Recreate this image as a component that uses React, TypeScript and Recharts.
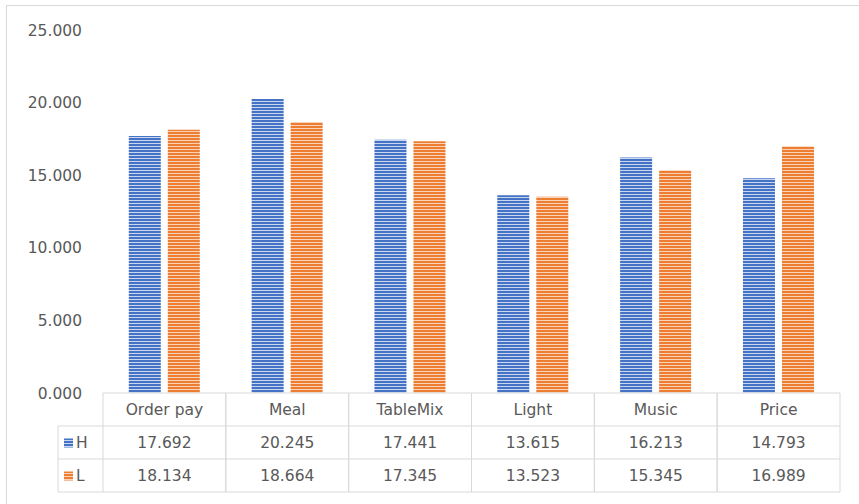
import { BarChart, Bar, XAxis, YAxis } from 'recharts';

const categories = ['Order pay', 'Meal', 'TableMix', 'Light', 'Music', 'Price'];
const hValues = [17.692, 20.245, 17.441, 13.615, 16.213, 14.793];
const lValues = [18.134, 18.664, 17.345, 13.523, 15.345, 16.989];
const yTicks = [0, 5, 10, 15, 20, 25];

const data = categories.map((name, i) => ({ name, H: hValues[i], L: lValues[i] }));

const BLUE = '#4472C4';
const ORANGE = '#ED7D31';
const GRID = '#d9d9d9';
const TEXT = '#595959';
const FONT = '"DejaVu Sans", sans-serif';
const FS = 15.5;

// plot area spans x 103..840, so each category cell is one band wide
const BAND = (840 - 103) / categories.length;
const ROW = 33;

function TableTick(props: any) {
  const { x, y, payload, index } = props;
  const left = x - BAND / 2;
  const top = y;
  const d = data[index];
  return (
    <g>
      <line x1={left} y1={top} x2={left + BAND} y2={top} stroke={GRID} />
      <line x1={left} y1={top} x2={left} y2={top + ROW * 3} stroke={GRID} />
      <line x1={left + BAND} y1={top} x2={left + BAND} y2={top + ROW * 3} stroke={GRID} />
      <line x1={left} y1={top + ROW} x2={left + BAND} y2={top + ROW} stroke={GRID} />
      <line x1={left} y1={top + ROW * 2} x2={left + BAND} y2={top + ROW * 2} stroke={GRID} />
      <line x1={left} y1={top + ROW * 3} x2={left + BAND} y2={top + ROW * 3} stroke={GRID} />
      <text x={x} y={top + ROW / 2} textAnchor="middle" dominantBaseline="central" fill={TEXT} fontSize={FS} fontFamily={FONT}>
        {payload.value}
      </text>
      <text x={x} y={top + ROW * 1.5} textAnchor="middle" dominantBaseline="central" fill={TEXT} fontSize={FS} fontFamily={FONT}>
        {d.H.toFixed(3)}
      </text>
      <text x={x} y={top + ROW * 2.5} textAnchor="middle" dominantBaseline="central" fill={TEXT} fontSize={FS} fontFamily={FONT}>
        {d.L.toFixed(3)}
      </text>
      {index === 0 && (
        <g>
          <line x1={left - 45} y1={top + ROW} x2={left} y2={top + ROW} stroke={GRID} />
          <line x1={left - 45} y1={top + ROW * 2} x2={left} y2={top + ROW * 2} stroke={GRID} />
          <line x1={left - 45} y1={top + ROW * 3} x2={left} y2={top + ROW * 3} stroke={GRID} />
          <line x1={left - 45} y1={top + ROW} x2={left - 45} y2={top + ROW * 3} stroke={GRID} />
          <rect x={left - 39} y={top + ROW * 1.5 - 4} width={9} height={9} fill="url(#stripeH)" />
          <text x={left - 27} y={top + ROW * 1.5} dominantBaseline="central" fill={TEXT} fontSize={FS} fontFamily={FONT}>H</text>
          <rect x={left - 39} y={top + ROW * 2.5 - 4} width={9} height={9} fill="url(#stripeL)" />
          <text x={left - 27} y={top + ROW * 2.5} dominantBaseline="central" fill={TEXT} fontSize={FS} fontFamily={FONT}>L</text>
        </g>
      )}
    </g>
  );
}

export default function App() {
  return (
    <div style={{ position: 'fixed', left: 0, top: 0, width: 859, height: 504, background: '#fff' }}>
      <div
        style={{
          position: 'absolute',
          left: 6,
          top: 5,
          width: 860,
          height: 510,
          borderLeft: '1px solid #d9d9d9',
          borderTop: '1px solid #d9d9d9',
        }}
      />
      <div style={{ position: 'absolute', left: 0, top: 0 }}>
        <BarChart
          width={859}
          height={504}
          data={data}
          margin={{ top: 30, right: 19, bottom: 11, left: 0 }}
          barCategoryGap="21%"
          barGap={7}
        >
          <defs>
            <pattern id="stripeH" x="0" y="0" width="4" height="3" patternUnits="userSpaceOnUse">
              <rect x="0" y="0" width="4" height="3" fill={BLUE} />
              <rect x="0" y="2" width="4" height="1" fill="#c9d6f0" />
            </pattern>
            <pattern id="stripeL" x="0" y="0" width="4" height="3" patternUnits="userSpaceOnUse">
              <rect x="0" y="0" width="4" height="3" fill={ORANGE} />
              <rect x="0" y="2" width="4" height="1" fill="#f8d3ba" />
            </pattern>
          </defs>
          <XAxis
            dataKey="name"
            height={100}
            axisLine={false}
            tickLine={false}
            tickSize={0}
            tickMargin={0}
            interval={0}
            tick={<TableTick />}
          />
          <YAxis
            width={103}
            domain={[0, 25]}
            ticks={yTicks}
            axisLine={false}
            tickLine={false}
            tickSize={0}
            tickMargin={21}
            tickFormatter={(v: number) => v.toFixed(3)}
            tick={{ fill: TEXT, fontSize: FS, fontFamily: FONT }}
          />
          <Bar dataKey="H" fill="url(#stripeH)" isAnimationActive={false} />
          <Bar dataKey="L" fill="url(#stripeL)" isAnimationActive={false} />
        </BarChart>
      </div>
    </div>
  );
}
